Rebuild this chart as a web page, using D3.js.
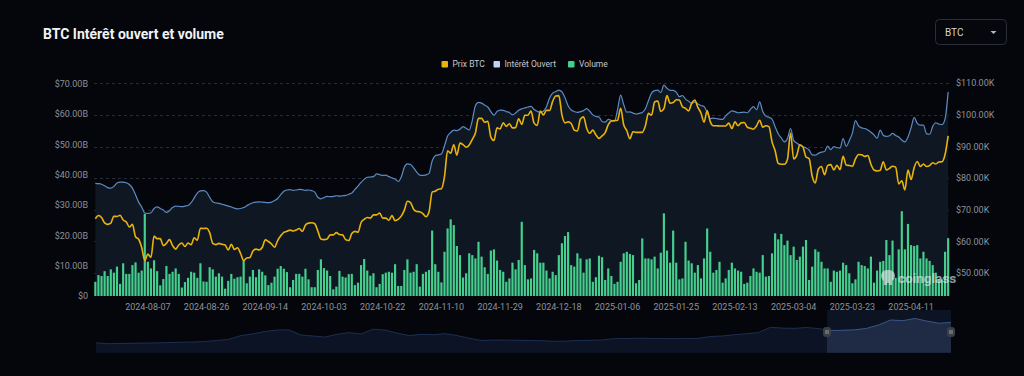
<!DOCTYPE html>
<meta charset="utf-8">
<body>
  <svg id="chart" width="1024" height="376"></svg>
</body>

<style>
body {
  margin: 0;
  background: #04060b;
}
svg {
  display: block;
  font-family: Roboto, "Noto Sans", sans-serif;
}
.grid line {
  stroke: #262b34;
  stroke-dasharray: 3 3;
}
.axis-label {
  fill: #8d929a;
  font-size: 9px;
}
.legend text {
  fill: #c4c8ce;
  font-size: 8.5px;
}
</style>

<script src="https://d3js.org/d3.v7.min.js"></script>

<script>
// daily categories, first and last day
const firstDay = "2024-07-21";
const lastDay = "2025-04-23";
const xTickLabels = ["2024-08-07", "2024-08-26", "2024-09-14", "2024-10-03", "2024-10-22",
  "2024-11-10", "2024-11-29", "2024-12-18", "2025-01-06", "2025-01-25", "2025-02-13",
  "2025-03-04", "2025-03-23", "2025-04-11"];
const leftTicks = [0, 10, 20, 30, 40, 50, 60, 70];        // $B
const rightTicks = [50, 60, 70, 80, 90, 100, 110];         // $K

// volume, $B
const volume = [
  4.7, 6.9, 6.6, 8.2, 6.6, 8.8, 7.7, 9.7, 4.0, 10.8, 7.3, 7.3, 10.2, 11.1, 7.7, 8.4, 27.1, 11.3, 9.1, 11.8,
  8.2, 3.5, 5.6, 9.9, 7.3, 8.0, 9.1, 7.3, 2.8, 4.6, 6.0, 8.0, 7.7, 6.0, 10.8,
  4.8, 4.7, 9.5, 8.8, 6.4, 7.5, 6.4, 2.4, 5.0, 7.3, 5.7, 6.2, 6.4, 11.7, 4.2, 6.4, 8.6, 6.2, 8.8, 8.0,
  6.8, 3.6, 4.4, 6.4, 9.0, 9.9, 9.0, 7.9, 2.9, 5.3, 7.3, 7.3, 6.4, 9.0, 5.5, 2.9, 2.9, 8.6, 12.1, 9.2, 8.4,
  6.6, 2.2, 3.1, 8.3, 6.4, 6.1, 7.2, 7.3, 3.6, 4.4, 10.2, 12.2, 8.4, 6.7, 7.5, 2.9, 4.0, 7.2, 7.7, 8.0,
  7.7, 10.5, 3.3, 3.3, 8.6, 12.1, 7.7, 8.0, 10.5, 3.1, 7.3, 8.0, 8.6, 21.6, 10.5, 8.0, 4.5, 14.6, 22.3, 25.3,
  23.4, 16.5, 13.5, 6.1, 7.5, 14.1, 13.5, 12.4, 17.9, 13.0, 9.5, 7.3, 15.0, 15.4, 11.7, 8.6, 8.0, 4.7, 5.8, 11.0,
  8.8, 11.9, 24.5, 10.2, 5.5, 5.8, 15.2, 14.1, 11.0, 11.0, 8.4, 5.8, 8.0, 6.9, 13.5, 17.4, 19.8, 21.1, 10.2, 9.7,
  14.1, 12.4, 7.7, 12.1, 12.4, 4.7, 6.2, 13.3, 12.8, 5.3, 9.1, 6.6, 4.0, 4.7, 11.3, 14.1, 14.6, 13.9,
  13.5, 4.2, 5.3, 19.0, 12.4, 12.4, 12.1, 13.0, 9.1, 14.3, 27.3, 15.0, 11.0, 21.6, 11.0, 5.5, 5.8, 17.9, 11.7, 10.8,
  7.7, 10.2, 5.8, 12.4, 22.3, 14.6, 7.7, 8.6, 11.3, 4.4, 5.8, 8.6, 11.0, 9.1, 8.4, 8.0, 4.0, 4.4, 6.6, 9.1,
  8.0, 7.7, 13.5, 6.4, 6.6, 14.1, 20.7, 18.7, 20.5, 16.8, 18.3, 13.5, 16.3, 11.9, 13.0, 16.3, 18.5, 5.3, 9.7, 15.4,
  14.6, 11.3, 9.1, 9.1, 4.7, 8.4, 8.0, 8.4, 11.0, 10.2, 7.5, 4.2, 5.5, 11.3, 10.2, 9.9, 9.1, 13.0, 4.4, 8.4,
  11.3, 11.6, 18.5, 13.5, 18.3, 6.0, 15.4, 28.0, 15.4, 23.8, 16.8, 16.5, 16.8, 12.4, 14.6, 12.4, 11.6, 10.2, 7.7, 5.5,
  5.5, 14.6, 19.1
];

// open interest, $B
const openInterest = [
  37.2, 37.1, 36.9, 36.4, 35.8, 35.6, 36.2, 37.3, 37.6, 37.6, 37.4, 36.8, 35.6, 33.4, 31.0, 29.4, 27.4, 27.3, 27.5, 28.9,
  29.4, 28.9, 28.4, 27.6, 28.2, 29.2, 29.7, 29.6, 29.5, 29.7, 29.9, 30.8, 32.4, 34.0, 34.7, 34.8, 34.3, 32.6, 31.1, 30.7,
  30.6, 30.3, 30.0, 29.7, 29.4, 29.0, 28.8, 28.9, 29.2, 29.8, 30.4, 30.8, 31.0, 31.1, 31.0, 30.9, 30.8, 31.0, 31.5, 32.2,
  33.5, 34.6, 35.0, 35.1, 34.9, 35.0, 35.2, 35.1, 34.9, 35.0, 34.8, 34.3, 32.6, 32.1, 32.5, 32.9, 32.8, 32.9, 33.1, 33.0,
  33.1, 33.2, 33.6, 34.0, 35.2, 36.3, 37.5, 38.5, 39.2, 39.3, 39.4, 40.3, 40.1, 39.8, 39.9, 39.4, 39.0, 38.6, 37.8, 39.3,
  42.5, 43.6, 43.4, 42.3, 40.9, 39.9, 39.8, 40.0, 40.5, 44.6, 46.3, 46.6, 46.9, 49.6, 52.8, 54.0, 54.8, 54.6, 55.1, 55.9,
  55.4, 54.8, 58.0, 62.8, 63.9, 63.7, 63.0, 62.4, 60.9, 59.7, 60.9, 61.4, 61.3, 60.9, 60.6, 59.8, 60.4, 61.3, 61.8, 62.1,
  62.4, 62.6, 61.6, 61.0, 60.6, 61.0, 62.5, 65.4, 67.0, 67.5, 68.0, 67.4, 65.5, 62.8, 61.4, 60.9, 60.6, 60.9, 61.2, 61.9,
  61.0, 59.8, 59.3, 59.1, 57.6, 57.4, 58.3, 58.0, 57.7, 61.5, 66.3, 63.2, 60.7, 60.8, 60.4, 60.1, 60.3, 60.6, 61.8, 64.5,
  67.0, 67.8, 68.0, 67.2, 69.6, 68.6, 67.9, 67.9, 67.3, 65.8, 66.2, 65.0, 64.3, 63.6, 64.1, 63.4, 62.9, 62.6, 60.6, 58.6,
  58.7, 58.6, 58.4, 58.3, 59.5, 60.4, 61.1, 60.9, 60.5, 60.6, 60.7, 60.5, 61.6, 62.5, 61.5, 64.1, 60.9, 59.4, 59.0, 58.4,
  55.9, 53.6, 52.2, 50.9, 52.0, 55.3, 51.4, 50.5, 49.8, 49.3, 48.9, 48.2, 46.6, 46.5, 47.1, 47.5, 47.7, 49.5, 48.3, 49.3,
  49.0, 48.8, 52.0, 49.4, 51.3, 53.8, 57.9, 56.2, 55.5, 55.3, 54.8, 54.1, 53.2, 52.1, 54.8, 53.1, 52.7, 52.9, 53.7, 53.0,
  52.5, 51.5, 50.9, 52.5, 55.5, 59.0, 57.0, 56.4, 56.4, 53.6, 53.4, 56.0, 57.2, 56.8, 56.6, 58.5, 67.4
];

// BTC price, $K
const price = [
  67.2, 68.2, 67.6, 65.9, 65.4, 65.8, 68.0, 67.9, 68.3, 66.8, 66.2, 64.6,
  65.4, 61.5, 60.7, 58.1, 54.0, 56.0, 55.0, 61.7, 60.9, 60.9, 58.7, 59.4, 60.6, 58.7, 57.6, 58.9, 59.5, 58.4,
  59.5, 59.0, 61.2, 60.4, 64.2, 64.1, 64.2, 62.8, 59.4, 59.0, 59.4, 59.1, 58.9,
  57.3, 59.1, 57.5, 58.0, 56.2, 54.0, 54.8, 54.9, 57.0, 57.6, 57.3, 58.1, 60.5, 60.0, 59.2, 58.2, 60.3, 61.8,
  62.9, 63.2, 63.6, 63.3, 63.6, 64.1, 63.2, 65.2, 65.8, 65.9, 65.6, 63.3,
  60.8, 60.6, 60.8, 62.1, 62.1, 62.8, 62.2, 62.1, 60.6, 60.3, 62.5, 63.2, 62.9, 66.0, 67.0, 67.6, 67.4, 68.4,
  68.4, 69.0, 67.4, 67.4, 66.7, 68.2, 66.6, 67.0, 68.0, 69.9, 72.7, 72.3, 70.2,
  69.5, 69.4, 68.8, 67.8, 69.4, 75.6, 75.9, 76.5, 76.7, 80.5, 88.7, 87.9, 90.6, 87.3, 91.1, 90.6, 89.8, 90.5,
  92.3, 94.3, 98.9, 98.9, 97.7, 98.0, 93.0, 91.9, 95.9, 95.6, 97.5, 96.4,
  97.2, 95.9, 96.0, 98.8, 97.0, 99.9, 99.9, 101.2, 97.4, 96.7, 101.2, 100.0, 101.5, 101.4, 104.3, 106.0, 106.1,
  100.0, 97.5, 97.8, 97.3, 95.2, 94.9, 98.7, 99.4, 95.8, 94.2, 95.2, 93.7, 92.6, 93.4,
  94.4, 96.9, 98.1, 98.2, 98.3, 102.1, 96.9, 95.0, 92.5, 94.7, 94.5, 94.5, 94.5, 96.5, 100.5, 99.9, 104.1,
  104.4, 101.1, 102.0, 106.1, 103.7, 103.9, 104.8, 104.7, 102.6, 102.1, 101.3, 103.7, 104.7, 102.4,
  100.6, 97.7, 101.4, 97.9, 96.6, 96.6, 96.5, 96.5, 96.5, 97.4, 95.7, 97.8, 96.6, 97.5, 97.6, 96.1, 95.8,
  95.5, 96.6, 98.3, 96.1, 96.6, 96.3, 91.5, 88.7, 84.7, 84.4, 84.4,
  86.0, 94.3, 86.1, 87.2, 90.6, 89.9, 86.7, 86.2, 80.6, 78.5, 82.9, 83.7, 81.1, 84.0, 84.3, 82.6, 84.1,
  82.7, 86.9, 84.2, 84.0, 83.8, 86.1, 87.5, 87.4, 86.9, 87.2, 84.4, 82.6, 82.3, 82.5,
  85.2, 82.6, 83.1, 83.8, 83.5, 78.2, 79.2, 76.3, 82.6, 79.6, 83.4, 85.3, 83.7, 84.5, 83.7, 84.0, 84.9,
  84.5, 85.1, 85.2, 87.5, 93.4
];

// overview series in the zoom slider (relative height, 0-100)
const overview = [
  23, 21, 21.5, 22, 22.5, 23, 23.5, 24.4, 25, 26, 28.5, 31, 39.8, 44, 49.5, 53, 53.5, 41.5, 39.1, 36.5,
  43, 47, 43.8, 55, 53, 46, 40, 43, 42, 44.5, 40, 33.7, 28.5, 29.5, 29.5, 29, 28.5, 28.1, 26.7, 27,
  28.5, 29, 29.7, 32.8, 33.2, 33.7, 33.5, 33, 32.8, 33, 33.5, 37.8, 39.1, 42, 44.5, 47, 59.5, 57.5, 57, 59,
  56.5, 52, 52.5, 53.5, 57, 65, 76.6, 74.9, 80.2, 74, 68.9, 71
];
const selectedFrom = 0.855;   // slider window, share of full history
const selectedTo = 1.0;

const svg = d3.select("#chart");

const dates = d3.utcDay.range(new Date(firstDay), d3.utcDay.offset(new Date(lastDay), 1));
const fmt = d3.utcFormat("%Y-%m-%d");
const cats = dates.map(fmt);

const x = d3.scaleBand().domain(cats).range([93.8, 949.7]).paddingInner(0.3).paddingOuter(0.15);
const yLeft = d3.scaleLinear().domain([0, 70]).range([296, 84]);
const yRight = d3.scaleLinear().domain([42.77, 110]).range([296, 83.3]);
const cx = function(i) { return x(cats[i]) + x.bandwidth() / 2; };

// title
svg.append("text")
  .attr("x", 43).attr("y", 39)
  .attr("fill", "#f1f2f4")
  .attr("font-size", 14).attr("font-weight", 700)
  .text("BTC Intérêt ouvert et volume");

// selector box
svg.append("rect")
  .attr("x", 935.5).attr("y", 19.5).attr("width", 71).attr("height", 25).attr("rx", 4)
  .attr("fill", "#05070c").attr("stroke", "#2a2e36");
svg.append("text")
  .attr("x", 945).attr("y", 35.5)
  .attr("fill", "#d3d6db").attr("font-size", 10)
  .text("BTC");
svg.append("path")
  .attr("d", "M990.5,31 L996.5,31 L993.5,34 Z")
  .attr("fill", "#b5b9bf");

// legend
const legendItems = [
  {name: "Prix BTC", color: "#eab30c", x: 441.5},
  {name: "Intérêt Ouvert", color: "#c4d2f3", x: 493.5},
  {name: "Volume", color: "#45cf8e", x: 568}
];
const legend = svg.append("g").attr("class", "legend");
legendItems.forEach(function(d) {
  legend.append("rect").attr("x", d.x).attr("y", 61).attr("width", 6.5).attr("height", 6.5)
    .attr("rx", 1).attr("fill", d.color);
  legend.append("text").attr("x", d.x + 11).attr("y", 67.3).text(d.name);
});

// grid (right axis ticks)
svg.append("g").attr("class", "grid")
  .selectAll("line").data(rightTicks).enter().append("line")
  .attr("x1", 94).attr("x2", 950)
  .attr("y1", function(d) { return Math.round(yRight(d)) + 0.5; })
  .attr("y2", function(d) { return Math.round(yRight(d)) + 0.5; });

// open interest area
const area = d3.area()
  .x(function(d, i) { return cx(i); })
  .y0(yLeft(0))
  .y1(function(d) { return yLeft(d); })
  .curve(d3.curveMonotoneX);
svg.append("path")
  .datum(openInterest)
  .attr("d", area)
  .attr("fill", "#0f1822");

// volume bars
svg.append("g")
  .selectAll("rect").data(volume).enter().append("rect")
  .attr("x", function(d, i) { return x(cats[i]); })
  .attr("width", x.bandwidth())
  .attr("y", function(d) { return yLeft(d); })
  .attr("height", function(d) { return yLeft(0) - yLeft(d); })
  .attr("fill", "#45cf8e");

// lines
const oiLine = d3.line()
  .x(function(d, i) { return cx(i); })
  .y(function(d) { return yLeft(d); })
  .curve(d3.curveMonotoneX);
svg.append("path").datum(openInterest).attr("d", oiLine)
  .attr("fill", "none").attr("stroke", "#5c8bc3").attr("stroke-width", 1.2);

const priceLine = d3.line()
  .x(function(d, i) { return cx(i); })
  .y(function(d) { return yRight(d); })
  .curve(d3.curveMonotoneX);
svg.append("path").datum(price).attr("d", priceLine)
  .attr("fill", "none").attr("stroke", "#eab30c").attr("stroke-width", 1.6);

// axes labels
svg.append("g").selectAll("text").data(leftTicks).enter().append("text")
  .attr("class", "axis-label")
  .attr("x", 88).attr("y", function(d) { return yLeft(d); })
  .attr("dy", "0.35em").attr("text-anchor", "end")
  .text(function(d) { return d === 0 ? "$0" : "$" + d.toFixed(2) + "B"; });

svg.append("g").selectAll("text").data(rightTicks).enter().append("text")
  .attr("class", "axis-label")
  .attr("x", 956).attr("y", function(d) { return yRight(d); })
  .attr("dy", "0.35em")
  .text(function(d) { return "$" + d.toFixed(2) + "K"; });

svg.append("g").selectAll("text").data(xTickLabels).enter().append("text")
  .attr("class", "axis-label")
  .attr("x", function(d) { return x(d) + x.bandwidth() / 2; })
  .attr("y", 309.5).attr("text-anchor", "middle")
  .text(function(d) { return d; });

// watermark
const wm = svg.append("g").attr("opacity", 0.62);
wm.append("path")
  .attr("d", "M881,275 q1,-5 7,-5 q6,0 7,5 q0,4 -3,6 l0,4 l-3,0 l0,-2 l-2,0 l0,2 l-3,0 l0,-4 q-3,-2 -3,-6 Z")
  .attr("fill", "#e8ecef");
wm.append("text")
  .attr("x", 898).attr("y", 283)
  .attr("fill", "#e8ecef").attr("font-size", 13.5).attr("font-weight", 700)
  .text("coinglass");

// zoom slider
const sx = d3.scaleLinear().domain([0, overview.length - 1]).range([96, 951]);
const sy = d3.scaleLinear().domain([0, 100]).range([352.7, 310]);
const ovArea = d3.area()
  .x(function(d, i) { return sx(i); })
  .y0(352.7)
  .y1(function(d) { return sy(d); })
  .curve(d3.curveLinear);
const ovLine = d3.line()
  .x(function(d, i) { return sx(i); })
  .y(function(d) { return sy(d); });

svg.append("defs").append("clipPath").attr("id", "sel")
  .append("rect").attr("x", 96 + (951 - 96) * selectedFrom).attr("y", 300)
  .attr("width", (951 - 96) * (selectedTo - selectedFrom)).attr("height", 60);

svg.append("path").datum(overview).attr("d", ovArea).attr("fill", "#0b1324");
svg.append("path").datum(overview).attr("d", ovLine)
  .attr("fill", "none").attr("stroke", "#1c2f52").attr("stroke-width", 1);

const selX0 = 96 + (951 - 96) * selectedFrom;
const selX1 = 96 + (951 - 96) * selectedTo;
svg.append("rect")
  .attr("x", selX0).attr("y", 310).attr("width", selX1 - selX0).attr("height", 42.7)
  .attr("fill", "#0c1424");
const selG = svg.append("g").attr("clip-path", "url(#sel)");
selG.append("path").datum(overview).attr("d", ovArea).attr("fill", "#1f2a44");
selG.append("path").datum(overview).attr("d", ovLine)
  .attr("fill", "none").attr("stroke", "#3a5688").attr("stroke-width", 1);

[selX0, selX1].forEach(function(hx) {
  svg.append("rect").attr("x", hx - 4).attr("y", 327).attr("width", 8).attr("height", 10).attr("rx", 3)
    .attr("fill", "#3a3e47");
  svg.append("line").attr("x1", hx - 1).attr("x2", hx - 1).attr("y1", 330).attr("y2", 334)
    .attr("stroke", "#aeb2b8").attr("stroke-width", 0.8);
  svg.append("line").attr("x1", hx + 1).attr("x2", hx + 1).attr("y1", 330).attr("y2", 334)
    .attr("stroke", "#aeb2b8").attr("stroke-width", 0.8);
});
</script>
